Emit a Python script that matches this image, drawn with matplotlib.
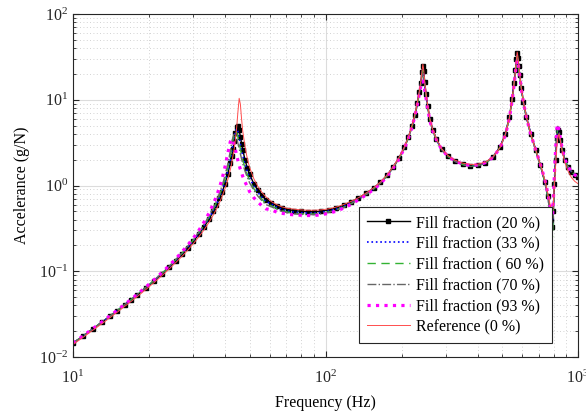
import matplotlib
matplotlib.use("Agg")
import matplotlib.pyplot as plt
import numpy as np

plt.rcParams["font.family"] = ["Liberation Serif", "DejaVu Serif"]
plt.rcParams["mathtext.fontset"] = "custom"
plt.rcParams["mathtext.rm"] = "Liberation Serif"
plt.rcParams["mathtext.it"] = "Liberation Serif:italic"
plt.rcParams["axes.unicode_minus"] = False

# frequences (Hz)
freq = [10, 11, 12, 13, 14, 15, 16, 17, 18, 19.5,
        21, 22.5, 24, 25.5, 27, 28.5, 30, 31.5, 33, 34.5,
        36, 37, 38, 39, 40, 41, 42, 42.5, 43, 43.5,
        44, 44.5, 45, 45.5, 46, 46.5, 47, 48, 49, 50,
        52, 54, 56, 58, 61, 64, 67, 71, 75, 80,
        85, 90, 96, 103, 110, 118, 126, 135, 145, 155,
        165, 175, 185, 195, 205, 213, 220, 226, 231, 235,
        238, 241, 243, 245, 247, 250, 254, 259, 266, 275,
        288, 305, 325, 350, 375, 400, 430, 460, 490, 515,
        535, 548, 558, 565, 570, 574, 578, 582, 588, 596,
        608, 625, 650, 680, 710, 740, 760, 775, 785, 792,
        798, 806, 815, 824, 832, 840, 850, 865, 885, 910,
        940, 970, 1000]

fill_20 = [0.0145, 0.0177, 0.0213, 0.0254, 0.0299, 0.0348, 0.0404, 0.0464, 0.0531, 0.0645,
           0.0777, 0.0931, 0.111, 0.132, 0.157, 0.188, 0.224, 0.270, 0.327, 0.402,
           0.503, 0.592, 0.708, 0.848, 1.054, 1.36, 1.84, 2.2, 2.68, 3.32,
           4.11, 4.83, 4.96, 4.43, 3.71, 3.09, 2.62, 1.99, 1.61, 1.36,
           1.05, 0.877, 0.767, 0.684, 0.63, 0.58, 0.55, 0.525, 0.51, 0.50,
           0.495, 0.495, 0.50, 0.52, 0.545, 0.59, 0.645, 0.715, 0.815, 0.935,
           1.09, 1.31, 1.64, 2.08, 2.78, 3.68, 4.95, 6.7, 9.2, 12.3,
           15.7, 21, 25, 21.5, 16, 11.8, 8.4, 5.95, 4.45, 3.45,
           2.68, 2.22, 1.95, 1.78, 1.70, 1.72, 1.85, 2.14, 2.8, 3.95,
           6.3, 10.2, 15.8, 22.5, 29.5, 35, 31, 25, 19.5, 13.8,
           9.4, 6.25, 4.0, 2.6, 1.72, 1.1, 0.75, 0.52, 0.4, 0.33,
           0.5, 1.05, 2.0, 3.6, 4.5, 4.2, 3.4, 2.6, 2.0, 1.65,
           1.45, 1.33, 1.27]

fill_33 = [0.0145, 0.0177, 0.0213, 0.0254, 0.0299, 0.0349, 0.0405, 0.0466, 0.0534, 0.0649,
           0.0783, 0.0939, 0.112, 0.134, 0.16, 0.192, 0.228, 0.275, 0.334, 0.413,
           0.515, 0.608, 0.729, 0.893, 1.12, 1.47, 2.04, 2.46, 3.02, 3.70,
           4.35, 4.6, 4.24, 3.63, 3.05, 2.59, 2.24, 1.76, 1.45, 1.24,
           0.985, 0.83, 0.726, 0.652, 0.61, 0.56, 0.53, 0.505, 0.49, 0.48,
           0.477, 0.477, 0.485, 0.505, 0.53, 0.57, 0.625, 0.70, 0.80, 0.92,
           1.08, 1.3, 1.62, 2.06, 2.76, 3.65, 4.9, 6.6, 9.0, 12.0,
           15.2, 19.5, 23, 20, 15.5, 11.5, 8.3, 5.9, 4.4, 3.42,
           2.66, 2.2, 1.93, 1.76, 1.69, 1.71, 1.84, 2.13, 2.78, 3.92,
           6.25, 10.1, 15.6, 22, 28.5, 33, 29.5, 24.5, 19, 13.6,
           9.3, 6.2, 3.98, 2.58, 1.71, 1.09, 0.74, 0.5, 0.4, 0.36,
           0.55, 1.1, 2.1, 3.8, 4.7, 4.3, 3.45, 2.62, 2.02, 1.66,
           1.46, 1.34, 1.28]

fill_60 = [0.0145, 0.0177, 0.0214, 0.0255, 0.0300, 0.0350, 0.0406, 0.0468, 0.0537, 0.0653,
           0.0788, 0.0946, 0.113, 0.136, 0.162, 0.195, 0.232, 0.281, 0.342, 0.425,
           0.535, 0.635, 0.765, 0.945, 1.2, 1.6, 2.25, 2.75, 3.35, 3.95,
           4.3, 4.15, 3.7, 3.15, 2.68, 2.3, 2.0, 1.6, 1.34, 1.15,
           0.92, 0.78, 0.69, 0.62, 0.58, 0.54, 0.51, 0.49, 0.475, 0.468,
           0.465, 0.465, 0.473, 0.493, 0.52, 0.56, 0.615, 0.69, 0.79, 0.91,
           1.07, 1.29, 1.61, 2.05, 2.74, 3.62, 4.85, 6.5, 8.9, 11.8,
           15, 19, 22, 19.5, 15.2, 11.3, 8.2, 5.85, 4.38, 3.4,
           2.65, 2.19, 1.92, 1.75, 1.68, 1.70, 1.83, 2.12, 2.77, 3.9,
           6.2, 10, 15.4, 21.5, 28, 32, 29, 24, 18.8, 13.5,
           9.25, 6.15, 3.96, 2.57, 1.7, 1.08, 0.72, 0.47, 0.35, 0.25,
           0.45, 1.1, 2.2, 3.9, 4.8, 4.4, 3.5, 2.64, 2.03, 1.67,
           1.46, 1.34, 1.28]

fill_70 = [0.0145, 0.0178, 0.0214, 0.0256, 0.0301, 0.0351, 0.0407, 0.0469, 0.0539, 0.0656,
           0.0793, 0.0953, 0.114, 0.137, 0.164, 0.198, 0.236, 0.287, 0.35, 0.437,
           0.555, 0.665, 0.81, 1.01, 1.3, 1.78, 2.55, 3.1, 3.7, 4.0,
           3.9, 3.55, 3.1, 2.7, 2.35, 2.05, 1.8, 1.47, 1.25, 1.08,
           0.88, 0.75, 0.665, 0.6, 0.565, 0.53, 0.5, 0.48, 0.468, 0.46,
           0.458, 0.458, 0.466, 0.486, 0.513, 0.553, 0.608, 0.685, 0.785, 0.905,
           1.065, 1.28, 1.6, 2.04, 2.72, 3.6, 4.8, 6.45, 8.8, 11.6,
           14.7, 18.5, 21, 19, 15, 11.2, 8.1, 5.8, 4.35, 3.38,
           2.64, 2.18, 1.91, 1.74, 1.67, 1.69, 1.82, 2.11, 2.76, 3.88,
           6.15, 9.9, 15.2, 21, 27, 31, 28.5, 23.5, 18.5, 13.3,
           9.2, 6.1, 3.94, 2.56, 1.69, 1.07, 0.71, 0.48, 0.38, 0.3,
           0.5, 1.15, 2.3, 4.1, 4.9, 4.45, 3.52, 2.65, 2.04, 1.68,
           1.47, 1.35, 1.28]

fill_93 = [0.0145, 0.0178, 0.0215, 0.0256, 0.0302, 0.0353, 0.041, 0.0472, 0.0542, 0.0661,
           0.0801, 0.0966, 0.116, 0.1395, 0.168, 0.203, 0.245, 0.300, 0.373, 0.473,
           0.617, 0.753, 0.943, 1.22, 1.66, 2.37, 3.27, 3.49, 3.36, 2.99,
           2.59, 2.23, 1.95, 1.72, 1.545, 1.40, 1.28, 1.10, 0.971, 0.85,
           0.72, 0.64, 0.58, 0.535, 0.52, 0.49, 0.475, 0.462, 0.455, 0.45,
           0.447, 0.447, 0.455, 0.475, 0.50, 0.545, 0.60, 0.68, 0.78, 0.90,
           1.05, 1.27, 1.58, 2.02, 2.7, 3.55, 4.8, 6.5, 8.8, 11.5,
           14, 16.5, 16.5, 15, 13, 10.5, 7.8, 5.7, 4.3, 3.4,
           2.65, 2.2, 1.94, 1.78, 1.72, 1.74, 1.85, 2.12, 2.72, 3.85,
           6.1, 9.8, 15, 21, 26, 29, 28, 24, 19, 13.5,
           9.2, 6.2, 3.95, 2.6, 1.75, 1.15, 0.8, 0.58, 0.45, 0.42,
           0.65, 1.3, 2.6, 4.6, 5.2, 4.5, 3.6, 2.7, 2.05, 1.7,
           1.45, 1.33, 1.27]

reference = [0.0140, 0.0171, 0.0206, 0.0244, 0.0287, 0.0335, 0.0388, 0.0446, 0.0509, 0.0618,
             0.0743, 0.0888, 0.106, 0.126, 0.149, 0.177, 0.211, 0.252, 0.303, 0.369,
             0.457, 0.532, 0.627, 0.752, 0.92, 1.16, 1.54, 1.82, 2.2, 2.68,
             3.5, 4.84, 7.3, 10.4, 8.9, 6.0, 4.33, 2.83, 2.06, 1.64,
             1.2, 0.97, 0.83, 0.74, 0.65, 0.6, 0.565, 0.54, 0.53, 0.52,
             0.515, 0.515, 0.52, 0.535, 0.56, 0.6, 0.65, 0.72, 0.82, 0.94,
             1.1, 1.32, 1.65, 2.1, 2.8, 3.7, 5.0, 6.8, 9.3, 12.5,
             16, 21.5, 26, 22, 16.5, 12, 8.5, 6.0, 4.5, 3.5,
             2.7, 2.25, 1.98, 1.82, 1.76, 1.77, 1.88, 2.15, 2.75, 3.9,
             6.2, 10, 15.5, 22, 29, 36, 32, 26, 20, 14,
             9.5, 6.3, 4.0, 2.6, 1.75, 1.15, 0.8, 0.6, 0.5, 0.48,
             0.6, 1.0, 1.7, 2.8, 3.7, 4.0, 3.4, 2.5, 1.9, 1.5,
             1.25, 1.12, 1.05]

fig = plt.figure(figsize=(5.86, 4.16), dpi=100)
ax = fig.add_axes([0.1246, 0.1418, 0.8618, 0.8245])

ax.loglog(freq, fill_20, "-s", color="black", lw=1.0, ms=2.6,
          label="Fill fraction (20 %)")
ax.loglog(freq, fill_33, ":", color="blue", lw=1.2,
          label="Fill fraction (33 %)")
ax.loglog(freq, fill_60, "--", color=(0.2, 0.7, 0.2), lw=1.0,
          dashes=(6, 4), label="Fill fraction ( 60 %)")
ax.loglog(freq, fill_70, "-.", color=(0.4, 0.4, 0.4), lw=1.0,
          label="Fill fraction (70 %)")
ax.loglog(freq, fill_93, ":", color="magenta", lw=2.3,
          label="Fill fraction (93 %)")
ax.loglog(freq, reference, "-", color=(1.0, 0.3, 0.3), lw=0.7,
          label="Reference (0 %)")

ax.set_xlim(10, 1000)
ax.set_ylim(1e-2, 1e2)

ax.grid(True, which="major", color="#dcdcdc", lw=0.8, ls="-")
ax.grid(True, which="minor", color="#c4c4c4", lw=0.6, ls=(0, (1, 3)))
ax.set_axisbelow(True)

for spine in ax.spines.values():
    spine.set_color("#262626")
    spine.set_linewidth(0.8)
ax.tick_params(which="both", direction="in", top=True, right=True,
               color="#262626", labelsize=11.5, labelcolor="#262626")
ax.tick_params(which="major", length=4)
ax.tick_params(which="minor", length=2)
ax.tick_params(axis="x", pad=9)

ax.set_xlabel("Frequency (Hz)", fontsize=11.5, labelpad=6)
ax.set_ylabel("Accelerance (g/N)", fontsize=11.5, labelpad=6)

leg = ax.legend(loc="lower right", bbox_to_anchor=(0.9485, 0.0408),
                borderaxespad=0, fontsize=11.5, fancybox=False, framealpha=1,
                edgecolor="#262626", handlelength=2.7, labelspacing=0.3,
                borderpad=0.5, handletextpad=0.4)
leg.get_frame().set_linewidth(0.8)

plt.savefig("out.png", dpi=100)
